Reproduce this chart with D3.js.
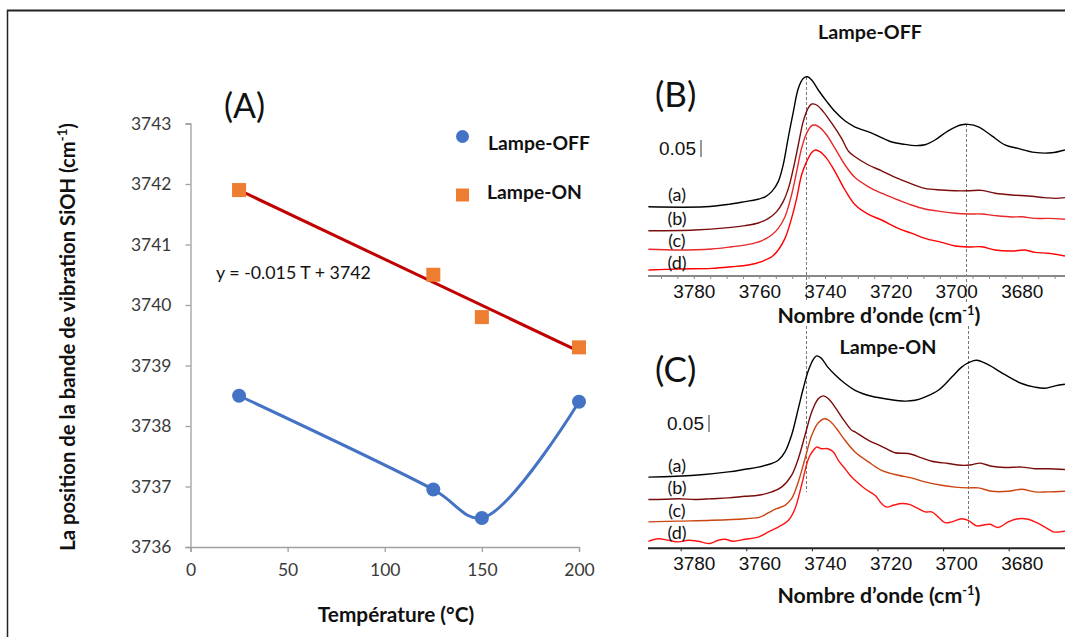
<!DOCTYPE html>
<html><head><meta charset="utf-8">
<script src="https://cdn.jsdelivr.net/npm/d3@7"></script>
<style>
html,body{margin:0;padding:0;background:#fff;}
svg{display:block;}
</style></head>
<body>
<svg id="chart" width="1065" height="637"></svg>
<script>
// ---------- DATA ----------
// Panel A
const temps = [25, 125, 150, 200];
const offValues = [3738.5, 3736.95, 3736.48, 3738.4];
const onValues = [3741.9, 3740.5, 3739.8, 3739.3];
const xTicksA = [0, 50, 100, 150, 200];
const yTicksA = [3736, 3737, 3738, 3739, 3740, 3741, 3742, 3743];
const seriesNames = ["Lampe-OFF", "Lampe-ON"];
const equationText = "y = -0.015 T + 3742";

// Panels B & C : wavenumber ticks, curve labels
const wnTicks = [3780, 3760, 3740, 3720, 3700, 3680];
const wnMinorB = d3.range(3790, 3665, -5);
const wnTicksC = [3784, 3764, 3744, 3724, 3704, 3684];
const curveLabels = ["(a)", "(b)", "(c)", "(d)"];
const peakLinesB = [3745.8, 3697];
const peakLinesC = [3745.8, 3696.4];

// Panel B spectra (Lampe-OFF) : [wavenumber, absorbance]
const specB_a = [[3794,0.173],[3776.7,0.173],[3769.6,0.179],[3764.5,0.186],[3760.5,0.192],[3758.4,0.198],[3756.4,0.211],[3754.4,0.236],[3752.9,0.278],[3751.4,0.344],[3749.8,0.411],[3748.3,0.469],[3746.8,0.494],[3745.5,0.498],[3744.2,0.49],[3742.2,0.465],[3739.6,0.436],[3737.1,0.411],[3734.1,0.388],[3731.1,0.373],[3725.9,0.357],[3719.8,0.335],[3715.8,0.329],[3712.7,0.326],[3709.7,0.328],[3706.6,0.34],[3702.6,0.363],[3698.5,0.378],[3696.5,0.379],[3693.4,0.373],[3689.4,0.351],[3685.3,0.328],[3681.3,0.319],[3676.2,0.309],[3671.1,0.308],[3667,0.315]];
const specB_b = [[3794,0.113],[3779.8,0.115],[3769.6,0.121],[3764.5,0.126],[3760.5,0.1325],[3757.4,0.144],[3754.9,0.161],[3752.9,0.186],[3751.3,0.219],[3749.8,0.269],[3748.3,0.3275],[3746.8,0.386],[3745.2,0.421],[3744.2,0.43],[3742.7,0.4275],[3740.7,0.411],[3738.1,0.382],[3735.1,0.344],[3733,0.312],[3731,0.298],[3726.9,0.2775],[3722.9,0.263],[3718.9,0.247],[3714.9,0.234],[3709.7,0.219],[3704.6,0.215],[3700.5,0.213],[3696.5,0.213],[3692.4,0.214],[3688.3,0.207],[3683.2,0.2025],[3678.2,0.2],[3673.1,0.196],[3670,0.194],[3667,0.196]];
const specB_c = [[3794,0.067],[3784.9,0.065],[3774.7,0.0675],[3768.6,0.073],[3763.5,0.079],[3759.5,0.088],[3756.4,0.1025],[3754.4,0.119],[3752.35,0.148],[3750.35,0.2025],[3748.8,0.261],[3747.3,0.319],[3745.75,0.357],[3744.2,0.376],[3743.2,0.3775],[3741.7,0.371],[3739.65,0.3525],[3737.1,0.319],[3734.05,0.2775],[3731,0.246],[3726.9,0.223],[3722.9,0.207],[3717.8,0.19],[3713.8,0.1775],[3709.7,0.1675],[3704.6,0.161],[3700.5,0.157],[3696.5,0.155],[3692.4,0.155],[3688.3,0.151],[3683.2,0.1475],[3680.2,0.148],[3676.1,0.144],[3672.1,0.144],[3667,0.142]];
const specB_d = [[3794,0.015],[3784.9,0.0175],[3774.7,0.019],[3768.6,0.023],[3763.5,0.0275],[3759.5,0.036],[3756.4,0.048],[3754.4,0.065],[3752.35,0.094],[3750.35,0.144],[3748.8,0.194],[3747.3,0.2525],[3745.75,0.286],[3744.2,0.309],[3743,0.315],[3741.7,0.311],[3739.65,0.294],[3737.1,0.261],[3734.05,0.215],[3731,0.178],[3726.9,0.154],[3722.9,0.14],[3717.8,0.119],[3713.8,0.107],[3709.7,0.094],[3704.6,0.084],[3700.5,0.075],[3696.5,0.0725],[3692.4,0.073],[3688.3,0.065],[3683.2,0.0625],[3679.2,0.065],[3676.1,0.059],[3672.1,0.057],[3667,0.05]];

// Panel C spectra (Lampe-ON)
const specC_a = [[3794,0.178],[3779.8,0.1825],[3769.6,0.191],[3764.5,0.1975],[3760.5,0.203],[3756.4,0.212],[3754.4,0.22],[3752.35,0.241],[3750.35,0.2825],[3748.3,0.349],[3746.8,0.399],[3745.2,0.445],[3743.7,0.4725],[3742.7,0.481],[3741.4,0.476],[3740.4,0.466],[3739.3,0.453],[3737.1,0.434],[3734.05,0.412],[3731,0.395],[3725.9,0.38],[3720.8,0.3725],[3715.8,0.368],[3712.7,0.37],[3709.7,0.378],[3705.6,0.395],[3701.5,0.428],[3698.5,0.453],[3695.9,0.466],[3693.9,0.47],[3690.4,0.459],[3685.3,0.434],[3680.2,0.412],[3676.2,0.403],[3673.1,0.4],[3670,0.406],[3667,0.41]];
const specC_b = [[3794,0.122],[3788.9,0.1225],[3784.9,0.124],[3779.8,0.122],[3774.7,0.124],[3769.6,0.126],[3764.5,0.13],[3760.5,0.1325],[3756.4,0.141],[3753.4,0.153],[3750.35,0.1825],[3748.3,0.224],[3746.25,0.2825],[3744.2,0.341],[3742.2,0.374],[3740.65,0.381],[3739.1,0.374],[3737.1,0.353],[3734.05,0.316],[3732,0.295],[3731,0.291],[3726.9,0.27],[3722.9,0.255],[3718.8,0.239],[3714.7,0.237],[3710.7,0.226],[3707.6,0.2175],[3702.6,0.212],[3698.5,0.2075],[3695.4,0.209],[3692.9,0.213],[3689.3,0.205],[3685.3,0.202],[3680.2,0.203],[3676.2,0.199],[3672.1,0.199],[3667,0.197]];
const specC_c = [[3794,0.066],[3784.9,0.068],[3774.7,0.07],[3764.5,0.074],[3760,0.078],[3757.4,0.089],[3754.9,0.099],[3752.35,0.1075],[3750.35,0.124],[3748.3,0.166],[3746.25,0.224],[3744.2,0.2825],[3742.2,0.314],[3740.15,0.324],[3738.6,0.3175],[3736.6,0.299],[3734.05,0.27],[3731,0.241],[3726.9,0.216],[3722.9,0.195],[3717.8,0.1825],[3713.8,0.176],[3709.7,0.166],[3704.6,0.1575],[3700.5,0.153],[3696.5,0.151],[3693.4,0.151],[3689.3,0.1425],[3684.3,0.1425],[3680.2,0.1475],[3676.2,0.141],[3672.1,0.141],[3667,0.1425]];
const specC_d = [[3794,0.0175],[3791,0.024],[3787.9,0.02],[3784.9,0.016],[3781.8,0.02],[3778.8,0.0175],[3775.2,0.012],[3772.7,0.02],[3770.6,0.0225],[3768.1,0.0175],[3764.5,0.0225],[3760.5,0.028],[3757.4,0.041],[3754.4,0.053],[3751.3,0.07],[3749.3,0.099],[3747.3,0.1575],[3745.2,0.224],[3743.7,0.245],[3742.7,0.253],[3741.2,0.249],[3739.3,0.249],[3737.6,0.241],[3736.1,0.22],[3734.05,0.199],[3732.5,0.1825],[3731,0.17],[3727.96,0.149],[3724.9,0.1325],[3722.9,0.112],[3721.35,0.103],[3719.3,0.1075],[3716.8,0.112],[3714.2,0.109],[3711.7,0.099],[3709.65,0.091],[3707.6,0.091],[3705.6,0.078],[3703.6,0.064],[3701.5,0.066],[3698.5,0.074],[3696.5,0.07],[3693.9,0.056],[3691.4,0.059],[3689.8,0.06],[3687.3,0.052],[3684.3,0.066],[3681.2,0.074],[3678.2,0.0725],[3675.6,0.064],[3673.1,0.053],[3670.5,0.041],[3668.5,0.041],[3667,0.0425]];

const colorsB = ["#000000", "#7a0c0c", "#e8282a", "#ff0000"];
const colorsC = ["#000000", "#7a0c0c", "#cc4410", "#ff1414"];

// ---------- DRAW ----------
const svg = d3.select("#chart");
const calibri = "Lato, 'Open Sans', sans-serif";
const arial = "'Liberation Sans', Arial, sans-serif";

// frame
svg.append("line").attr("x1", 7).attr("x2", 1065).attr("y1", 10.5).attr("y2", 10.5).attr("stroke", "#222").attr("stroke-width", 2);
svg.append("line").attr("x1", 7.5).attr("x2", 7.5).attr("y1", 10).attr("y2", 637).attr("stroke", "#222").attr("stroke-width", 1.5);

// ===== Panel A =====
const xA = d3.scaleLinear().domain([0, 200]).range([190.5, 579]);
const yA = d3.scaleLinear().domain([3736, 3743]).range([547, 123.5]);
const gA = svg.append("g");

const axX = gA.append("g").attr("transform", `translate(0,${yA(3736)})`)
  .call(d3.axisBottom(xA).tickValues(xTicksA).tickSize(5).tickPadding(12));
const axY = gA.append("g").attr("transform", `translate(${xA(0)},0)`)
  .call(d3.axisLeft(yA).tickValues(yTicksA).tickFormat(d3.format("d")).tickSize(5).tickPadding(14));
[axX, axY].forEach(ax => {
  ax.selectAll("path,line").attr("stroke", "#a0a0a0").attr("stroke-width", 1.3);
  ax.selectAll("text").attr("font-family", calibri).attr("font-size", 17.5).attr("fill", "#3a3a3a");
});

// trendline (least squares) for Lampe-ON
const mx = d3.mean(temps), my = d3.mean(onValues);
const slope = d3.sum(temps, (t, i) => (t - mx) * (onValues[i] - my)) / d3.sum(temps, t => (t - mx) ** 2);
const icpt = my - slope * mx;
gA.append("line")
  .attr("x1", xA(temps[0])).attr("y1", yA(icpt + slope * temps[0]))
  .attr("x2", xA(temps[3])).attr("y2", yA(icpt + slope * temps[3]))
  .attr("stroke", "#c00000").attr("stroke-width", 3);

// smoothed OFF line
const offPts = temps.map((t, i) => [t, offValues[i]]);
gA.append("path").datum(offPts)
  .attr("d", d3.line().x(d => xA(d[0])).y(d => yA(d[1])).curve(d3.curveCatmullRom.alpha(0.5)))
  .attr("fill", "none").attr("stroke", "#4472c4").attr("stroke-width", 3);

gA.selectAll("circle.off").data(offPts).enter().append("circle")
  .attr("cx", d => xA(d[0])).attr("cy", d => yA(d[1])).attr("r", 7).attr("fill", "#4472c4");
const sq = 14;
gA.selectAll("rect.on").data(temps.map((t, i) => [t, onValues[i]])).enter().append("rect")
  .attr("x", d => xA(d[0]) - sq / 2).attr("y", d => yA(d[1]) - sq / 2)
  .attr("width", sq).attr("height", sq).attr("fill", "#ed7d31");

// legend
gA.append("circle").attr("cx", 462.5).attr("cy", 136.5).attr("r", 6.5).attr("fill", "#4472c4");
gA.append("rect").attr("x", 456).attr("y", 188.5).attr("width", 13).attr("height", 13).attr("fill", "#ed7d31");
gA.append("text").attr("x", 488).attr("y", 149.5).text(seriesNames[0])
  .attr("font-family", calibri).attr("font-weight", "bold").attr("font-size", 19.3).attr("fill", "#111");
gA.append("text").attr("x", 487).attr("y", 198.5).text(seriesNames[1])
  .attr("font-family", calibri).attr("font-weight", "bold").attr("font-size", 19.3).attr("fill", "#111");

gA.append("text").attr("x", 216).attr("y", 278.5).text(equationText)
  .attr("font-family", calibri).attr("font-size", 17.8).attr("fill", "#111");
gA.append("text").attr("x", 224).attr("y", 118).text("(A)")
  .attr("font-family", calibri).attr("font-size", 34).attr("fill", "#111");

// axis titles
const yt = gA.append("text").attr("transform", "translate(75,337) rotate(-90)")
  .attr("text-anchor", "middle").attr("font-family", calibri).attr("font-weight", "bold")
  .attr("font-size", 20.3).attr("fill", "#111");
yt.append("tspan").text("La position de la bande de vibration SiOH (cm");
yt.append("tspan").text("-1").attr("font-size", 13).attr("dy", -8);
yt.append("tspan").text(")").attr("dy", 8);
gA.append("text").attr("x", 396).attr("y", 622).attr("text-anchor", "middle")
  .text("Température (°C)").attr("font-family", calibri).attr("font-weight", "bold")
  .attr("font-size", 20.8).attr("fill", "#111");

// ===== Panels B & C =====
const xS = d3.scaleLinear().domain([3780, 3680]).range([694.3, 1022.3]);
svg.append("defs").append("clipPath").attr("id", "clipS")
  .append("rect").attr("x", 648).attr("y", 0).attr("width", 417).attr("height", 637);

function panel(cfg) {
  const g = svg.append("g");
  const yS = d3.scaleLinear().domain([0, 0.5]).range([cfg.axisY, cfg.axisY - 200]);
  // dashed peak lines
  cfg.peaks.forEach((p, i) => {
    g.append("line").attr("x1", xS(p)).attr("x2", xS(p))
      .attr("y1", cfg.peakY[i][0]).attr("y2", cfg.peakY[i][1])
      .attr("stroke", "#777").attr("stroke-width", 1).attr("stroke-dasharray", "3,2");
  });
  // axis line
  g.append("line").attr("x1", 648).attr("x2", 1065).attr("y1", cfg.axisY).attr("y2", cfg.axisY)
    .attr("stroke", cfg.axisColor).attr("stroke-width", 2);
  g.selectAll("line.mt").data(cfg.minor).enter().append("line")
    .attr("x1", d => xS(d)).attr("x2", d => xS(d)).attr("y1", cfg.axisY).attr("y2", cfg.axisY + 3)
    .attr("stroke", cfg.axisColor).attr("stroke-width", 1);
  g.selectAll("text.tk").data(wnTicks).enter().append("text")
    .attr("x", d => xS(d)).attr("y", cfg.axisY + 22).attr("text-anchor", "middle")
    .attr("font-family", arial).attr("font-size", 19).attr("fill", "#111").text(d => d);
  // spectra
  const line = d3.line().x(d => xS(d[0])).y(d => yS(d[1])).curve(d3.curveCatmullRom.alpha(0.5));
  cfg.spectra.forEach((s, i) => {
    g.append("path").datum(s).attr("d", line).attr("clip-path", "url(#clipS)")
      .attr("fill", "none").attr("stroke", cfg.colors[i]).attr("stroke-width", 1.4);
  });
  // labels
  curveLabels.forEach((l, i) => {
    g.append("text").attr("x", 677).attr("y", cfg.labelY[i] + 6).attr("text-anchor", "middle")
      .attr("font-family", calibri).attr("font-size", 18).attr("fill", "#111").text(l);
  });
  g.append("text").attr("x", 655).attr("y", cfg.letterY + 12).text(cfg.letter)
    .attr("font-family", calibri).attr("font-size", 35).attr("fill", "#111");
  g.append("text").attr("x", cfg.barX - 5).attr("y", cfg.barTop + 15).attr("text-anchor", "end")
    .text("0.05").attr("font-family", arial).attr("font-size", 19).attr("fill", "#111");
  g.append("line").attr("x1", cfg.barX).attr("x2", cfg.barX)
    .attr("y1", cfg.barTop).attr("y2", cfg.barTop + (yS(0) - yS(0.05)) * 0.85)
    .attr("stroke", "#333").attr("stroke-width", 1);
  g.append("text").attr("x", cfg.titleX).attr("y", cfg.titleY + 7).attr("text-anchor", "middle")
    .text(cfg.title).attr("font-family", calibri).attr("font-weight", "bold").attr("font-size", 19.7).attr("fill", "#111");
  const xt = g.append("text").attr("x", 879).attr("y", cfg.xTitleY + 7.5).attr("text-anchor", "middle")
    .attr("font-family", calibri).attr("font-weight", "bold").attr("font-size", 21.3).attr("fill", "#111");
  xt.append("tspan").text("Nombre d’onde (cm");
  xt.append("tspan").text("-1").attr("font-size", 13).attr("dy", -8);
  xt.append("tspan").text(")").attr("dy", 8);
}

panel({
  axisY: 276, axisColor: "#888", minor: wnMinorB, spectra: [specB_a, specB_b, specB_c, specB_d],
  colors: colorsB, peaks: peakLinesB, peakY: [[77, 302], [124, 302]],
  labelY: [195, 219, 241, 263], letter: "(B)", letterY: 95, barX: 701, barTop: 140,
  title: "Lampe-OFF", titleX: 870, titleY: 32, xTitleY: 315
});
panel({
  axisY: 548.3, axisColor: "#222", minor: wnTicksC, spectra: [specC_a, specC_b, specC_c, specC_d],
  colors: colorsC, peaks: peakLinesC, peakY: [[326, 492], [326, 528]],
  labelY: [466, 488, 511, 533], letter: "(C)", letterY: 370, barX: 709, barTop: 415,
  title: "Lampe-ON", titleX: 888, titleY: 347, xTitleY: 595
});
</script>
</body></html>
